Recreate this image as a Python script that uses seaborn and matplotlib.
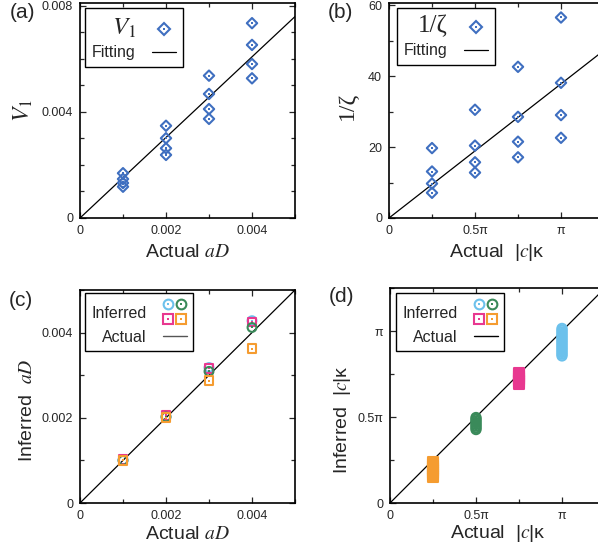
import numpy as np
import pandas as pd
import matplotlib
matplotlib.use("Agg")
import matplotlib.pyplot as plt
import seaborn as sns
from matplotlib.lines import Line2D
from matplotlib.legend_handler import HandlerBase, HandlerTuple
from matplotlib.ticker import MultipleLocator

# ---- data ----
# (a) V1 vs actual aD
a_x = [0.001] * 4 + [0.002] * 4 + [0.003] * 4 + [0.004] * 4
a_v1 = [0.00169, 0.00147, 0.00132, 0.00118,
        0.00348, 0.00301, 0.00263, 0.00238,
        0.00537, 0.00468, 0.00411, 0.00374,
        0.00735, 0.00653, 0.00581, 0.00527]
a_fit_slope = 1.52

# (b) 1/zeta vs actual |c|kappa (in units of pi)
b_x = [0.25] * 4 + [0.5] * 4 + [0.75] * 4 + [1.0] * 4
b_inv_zeta = [19.7, 13.1, 9.7, 7.1,
              30.5, 20.4, 15.7, 12.8,
              42.6, 28.5, 21.5, 17.1,
              56.5, 38.1, 29.0, 22.6]
b_fit_at_pi = 37.8

# (c) inferred aD vs actual aD, four runs
c_x = [0.001, 0.002, 0.003, 0.004]
c_blue = [0.00101, 0.00203, 0.00318, 0.00428]
c_pink = [0.00102, 0.00206, 0.00316, 0.00425]
c_green = [0.00100, 0.00202, 0.00309, 0.00412]
c_orange = [0.00100, 0.00200, 0.00287, 0.00362]

# (d) inferred |c|kappa vs actual (units of pi)
d_orange = [0.146, 0.158, 0.17, 0.182, 0.194, 0.206, 0.218, 0.23, 0.24]
d_green = [0.427, 0.437, 0.447, 0.457, 0.467, 0.477, 0.487, 0.497]
d_pink = [0.69, 0.70, 0.71, 0.72, 0.73, 0.74, 0.75, 0.76]
d_blue = [0.855, 0.865, 0.875, 0.885, 0.895, 0.905, 0.915, 0.925, 0.935,
          0.945, 0.955, 0.965, 0.975, 0.985, 0.995, 1.005, 1.015]

BLUE = "#3f6fc0"
SKY = "#6cc1ec"
GREEN = "#3a8a5a"
PINK = "#e83890"
ORANGE = "#f59c30"

sns.set_style("ticks")
plt.rcParams["font.family"] = ["Liberation Sans", "DejaVu Sans"]
plt.rcParams["mathtext.fontset"] = "stix"

fig = plt.figure(figsize=(5.98, 5.54), dpi=100)
W, H = 598, 554


def add_ax(left, top, right, bottom):
    return fig.add_axes([left / W, 1 - bottom / H, (right - left) / W, (bottom - top) / H])


ax_a = add_ax(80, 3.3, 295, 218)
ax_b = add_ax(389, 3.3, 604, 218)
ax_c = add_ax(80, 290, 295, 503)
ax_d = add_ax(390, 288, 605, 503)


def hollow(ax, x, y, marker, color, s=30, lw=1.5):
    df = pd.DataFrame({"x": x, "y": y})
    sns.scatterplot(data=df, x="x", y="y", marker=marker, s=s, facecolor="none",
                    edgecolor=color, linewidth=lw, ax=ax, zorder=3)
    sns.scatterplot(data=df, x="x", y="y", marker="s", s=2.5, color=color,
                    linewidth=0, ax=ax, zorder=3)


def style(ax):
    ax.tick_params(which="both", direction="in", top=True, right=True,
                   labelsize=9, pad=5, width=0.9)
    ax.tick_params(which="major", length=4)
    ax.tick_params(which="minor", length=3)
    for sp in ax.spines.values():
        sp.set_linewidth(1.2)
        sp.set_color("black")


def fit_line(ax, slope, xmax, color="black"):
    xs = np.array([0.0, xmax])
    sns.lineplot(x=xs, y=slope * xs, color=color, lw=0.9, ax=ax, zorder=2)


pi_ticks = [0, 0.5 * np.pi, np.pi]
pi_labels = ["0", "0.5π", "π"]
serif_fam = ["Liberation Serif", "DejaVu Serif"]

# ---- (a) ----
ax = ax_a
fit_line(ax, a_fit_slope, 0.005)
hollow(ax, a_x, a_v1, "D", BLUE, s=28)
ax.set_xlim(0, 0.005)
ax.set_ylim(0, 0.0081)
ax.set_xticks([0, 0.002, 0.004], ["0", "0.002", "0.004"])
ax.set_yticks([0, 0.004, 0.008], ["0", "0.004", "0.008"])
ax.xaxis.set_minor_locator(MultipleLocator(0.001))
ax.yaxis.set_minor_locator(MultipleLocator(0.001))
ax.set_xlabel(r"Actual $aD$", fontsize=14, va="center")
ax.set_ylabel(r"$V_{\mathrm{1}}$", fontsize=17, va="center")
ax.xaxis.set_label_coords(0.5, -0.16)
ax.yaxis.set_label_coords(-0.265, 0.5)
style(ax)


def diamond_handle(color):
    return (Line2D([], [], ls="none", marker="D", ms=6.5, mfc="none", mec=color, mew=1.5),
            Line2D([], [], ls="none", marker="s", ms=1.6, color=color, mew=0))


def fit_legend(ax, first_label, anchor, serif_first):
    leg = ax.legend(handles=[diamond_handle(BLUE), Line2D([], [], color="black", lw=0.9)],
                    labels=[first_label, "Fitting"],
                    handler_map={tuple: HandlerTuple(ndivide=1)},
                    loc="upper left", bbox_to_anchor=anchor, borderaxespad=0,
                    markerfirst=False, fontsize=11.5, frameon=True, fancybox=False,
                    framealpha=1, edgecolor="black", handlelength=1.5,
                    handletextpad=1.0, borderpad=0.45, labelspacing=0.35)
    leg.get_frame().set_linewidth(1.0)
    t0 = leg.get_texts()[0]
    t0.set_fontsize(18)
    if serif_first:
        t0.set_fontfamily(serif_fam)
    return leg


fit_legend(ax_a, r"$V_{\mathrm{1}}$", (0.023, 0.978), False)

# ---- (b) ----
ax = ax_b
fit_line(ax, b_fit_at_pi / np.pi, 1.25 * np.pi)
hollow(ax, np.array(b_x) * np.pi, b_inv_zeta, "D", BLUE, s=28)
ax.set_xlim(0, 1.25 * np.pi)
ax.set_ylim(0, 60.5)
ax.set_xticks(pi_ticks, pi_labels)
ax.set_yticks([0, 20, 40, 60], ["0", "20", "40", "60"])
ax.xaxis.set_minor_locator(MultipleLocator(0.25 * np.pi))
ax.yaxis.set_minor_locator(MultipleLocator(10))
ax.set_xlabel("Actual  |$c$|κ", fontsize=14, va="center")
ax.set_ylabel("1/ζ", fontsize=17, va="center", family=serif_fam)
ax.xaxis.set_label_coords(0.5, -0.16)
ax.yaxis.set_label_coords(-0.195, 0.52)
style(ax)
fit_legend(ax_b, "1/ζ", (0.037, 0.978), True)


# ---- legend helper for the 2x2 marker group ----
class InferredKey:
    def __init__(self, specs):
        self.specs = specs


class QuadHandler(HandlerBase):
    def legend_artist(self, legend, orig_handle, fontsize, handlebox):
        handlebox.height = 1.6 * fontsize
        handlebox.ydescent = 0.44 * fontsize
        w = handlebox.width
        h = handlebox.height
        first = None
        for mk, col, fx, fy in orig_handle.specs:
            px = fx * w
            py = fy * h - handlebox.ydescent
            ring = Line2D([px], [py], ls="none", marker=mk, ms=7, mfc="none", mec=col, mew=1.5)
            dot = Line2D([px], [py], ls="none", marker="s", ms=1.6, color=col, mew=0)
            handlebox.add_artist(ring)
            handlebox.add_artist(dot)
            if first is None:
                first = ring
        return first


quad = InferredKey([("o", SKY, 0.22, 0.80), ("o", GREEN, 0.78, 0.80),
                    ("s", PINK, 0.22, 0.22), ("s", ORANGE, 0.78, 0.22)])


def inferred_legend(ax, anchor, line_color):
    leg = ax.legend(handles=[quad, Line2D([], [], color=line_color, lw=1.0)],
                    labels=["Inferred", "Actual"],
                    handler_map={InferredKey: QuadHandler()},
                    loc="upper left", bbox_to_anchor=anchor, borderaxespad=0,
                    markerfirst=False, fontsize=11.5, frameon=True, fancybox=False,
                    framealpha=1, edgecolor="black", handlelength=1.5,
                    handletextpad=1.0, borderpad=0.4, labelspacing=0.3)
    leg.get_frame().set_linewidth(1.0)
    return leg


# ---- (c) ----
ax = ax_c
fit_line(ax, 1.0, 0.005)
for vals, mk, col in [(c_blue, "o", SKY), (c_pink, "s", PINK),
                      (c_green, "o", GREEN), (c_orange, "s", ORANGE)]:
    hollow(ax, c_x, vals, mk, col, s=40)
ax.set_xlim(0, 0.005)
ax.set_ylim(0, 0.005)
ax.set_xticks([0, 0.002, 0.004], ["0", "0.002", "0.004"])
ax.set_yticks([0, 0.002, 0.004], ["0", "0.002", "0.004"])
ax.xaxis.set_minor_locator(MultipleLocator(0.001))
ax.yaxis.set_minor_locator(MultipleLocator(0.001))
ax.set_xlabel(r"Actual $aD$", fontsize=14, va="center")
ax.set_ylabel(r"Inferred  $aD$", fontsize=14, va="center")
ax.xaxis.set_label_coords(0.5, -0.15)
ax.yaxis.set_label_coords(-0.242, 0.435)
style(ax)
inferred_legend(ax, (0.023, 0.986), "#555555")

# ---- (d) ----
ax = ax_d
fit_line(ax, 1.0, 1.25 * np.pi)
for xpos, vals, mk, col in [(0.25, d_orange, "s", ORANGE), (0.5, d_green, "o", GREEN),
                            (0.75, d_pink, "s", PINK), (1.0, d_blue, "o", SKY)]:
    hollow(ax, np.full(len(vals), xpos * np.pi), np.array(vals) * np.pi, mk, col, s=44)
ax.set_xlim(0, 1.25 * np.pi)
ax.set_ylim(0, 1.25 * np.pi)
ax.set_xticks(pi_ticks, pi_labels)
ax.set_yticks(pi_ticks, pi_labels)
ax.xaxis.set_minor_locator(MultipleLocator(0.25 * np.pi))
ax.yaxis.set_minor_locator(MultipleLocator(0.25 * np.pi))
ax.set_xlabel("Actual  |$c$|κ", fontsize=14, va="center")
ax.set_ylabel("Inferred  |$c$|κ", fontsize=14, va="center")
ax.xaxis.set_label_coords(0.5, -0.14)
ax.yaxis.set_label_coords(-0.219, 0.39)
style(ax)
inferred_legend(ax, (0.028, 0.977), "black")

# ---- panel letters ----
for lbl, px, py in [("(a)", 22, 13), ("(b)", 340, 13), ("(c)", 21, 301), ("(d)", 341, 297)]:
    fig.text(px / W, 1 - py / H, lbl, fontsize=15, ha="center", va="center")

fig.savefig("out.png", dpi=100)
